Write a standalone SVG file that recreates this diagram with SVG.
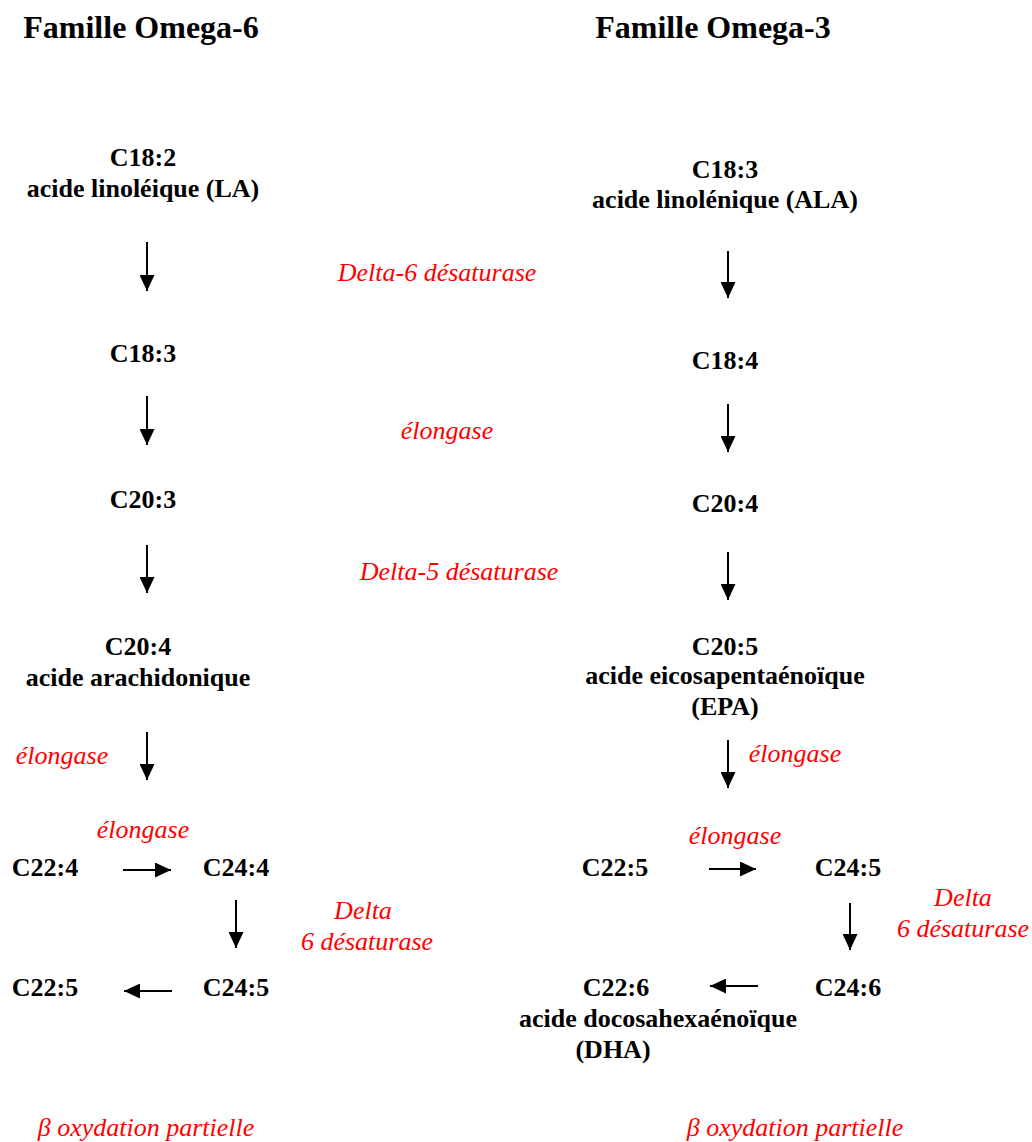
<svg xmlns="http://www.w3.org/2000/svg" width="1032" height="1142" viewBox="0 0 1032 1142">
<defs>
<marker id="ah" viewBox="0 0 16 15" refX="16" refY="7.5" markerWidth="16" markerHeight="15" markerUnits="userSpaceOnUse" orient="auto">
<path d="M0,0 L16,7.5 L0,15 Z" fill="#000"/>
</marker>
<style>
.t{font-family:"Liberation Serif","Times New Roman",serif;font-weight:bold;font-size:32px;fill:#000}
.n{font-family:"Liberation Serif","Times New Roman",serif;font-weight:bold;font-size:26px;fill:#000;text-anchor:middle}
.e{font-family:"Liberation Serif","Times New Roman",serif;font-style:italic;font-size:26px;fill:#ff0000;text-anchor:middle}
.c{stroke:#000;stroke-width:2;fill:none;marker-end:url(#ah)}
</style>
</defs>
<rect width="1032" height="1142" fill="#fff"/>
<g id="titles">
<text class="t" x="141" y="38" text-anchor="middle">Famille Omega-6</text>
<text class="t" x="713" y="38" text-anchor="middle">Famille Omega-3</text>
</g>
<g id="o6-c18-2"><text class="n" x="143" y="166">C18:2</text><text class="n" x="143" y="197">acide linoléique (LA)</text></g>
<g id="o6-c18-3"><text class="n" x="143" y="362">C18:3</text></g>
<g id="o6-c20-3"><text class="n" x="143" y="508">C20:3</text></g>
<g id="o6-c20-4"><text class="n" x="138" y="655">C20:4</text><text class="n" x="138" y="686">acide arachidonique</text></g>
<g id="o6-c22-4"><text class="n" x="45" y="876">C22:4</text></g>
<g id="o6-c24-4"><text class="n" x="236" y="876">C24:4</text></g>
<g id="o6-c24-5"><text class="n" x="236" y="996">C24:5</text></g>
<g id="o6-c22-5"><text class="n" x="45" y="996">C22:5</text></g>

<g id="o3-c18-3"><text class="n" x="725" y="178">C18:3</text><text class="n" x="725" y="208">acide linolénique (ALA)</text></g>
<g id="o3-c18-4"><text class="n" x="725" y="369">C18:4</text></g>
<g id="o3-c20-4"><text class="n" x="725" y="512">C20:4</text></g>
<g id="o3-c20-5"><text class="n" x="725" y="655">C20:5</text><text class="n" x="725" y="684">acide eicosapentaénoïque</text><text class="n" x="725" y="715">(EPA)</text></g>
<g id="o3-c22-5"><text class="n" x="615" y="876">C22:5</text></g>
<g id="o3-c24-5"><text class="n" x="848" y="876">C24:5</text></g>
<g id="o3-c24-6"><text class="n" x="848" y="996">C24:6</text></g>
<g id="o3-c22-6"><text class="n" x="616" y="996">C22:6</text><text class="n" x="658" y="1027">acide docosahexaénoïque</text><text class="n" x="613" y="1058">(DHA)</text></g>

<g id="enzymes">
<text class="e" x="437" y="281">Delta-6 désaturase</text>
<text class="e" x="447" y="439">élongase</text>
<text class="e" x="459" y="580">Delta-5 désaturase</text>
<text class="e" x="62" y="764">élongase</text>
<text class="e" x="143" y="838">élongase</text>
<text class="e" x="363" y="919">Delta</text>
<text class="e" x="367" y="950">6 désaturase</text>
<text class="e" x="795" y="762">élongase</text>
<text class="e" x="735" y="844">élongase</text>
<text class="e" x="963" y="906">Delta</text>
<text class="e" x="963" y="937">6 désaturase</text>
<text class="e" x="146" y="1136">β oxydation partielle</text>
<text class="e" x="795" y="1136">β oxydation partielle</text>
</g>

<g id="connectors">
<line class="c" x1="147" y1="242" x2="147" y2="291"/>
<line class="c" x1="147" y1="396" x2="147" y2="445"/>
<line class="c" x1="147" y1="545" x2="147" y2="593"/>
<line class="c" x1="147" y1="732" x2="147" y2="780"/>
<line class="c" x1="123" y1="870" x2="171" y2="870"/>
<line class="c" x1="236" y1="900" x2="236" y2="948"/>
<line class="c" x1="172" y1="991" x2="124" y2="991"/>
<line class="c" x1="728" y1="251" x2="728" y2="298"/>
<line class="c" x1="728" y1="404" x2="728" y2="452"/>
<line class="c" x1="728" y1="552" x2="728" y2="600"/>
<line class="c" x1="728" y1="740" x2="728" y2="788"/>
<line class="c" x1="709" y1="869" x2="756" y2="869"/>
<line class="c" x1="850" y1="903" x2="850" y2="950"/>
<line class="c" x1="758" y1="986" x2="710" y2="986"/>
</g>
</svg>
